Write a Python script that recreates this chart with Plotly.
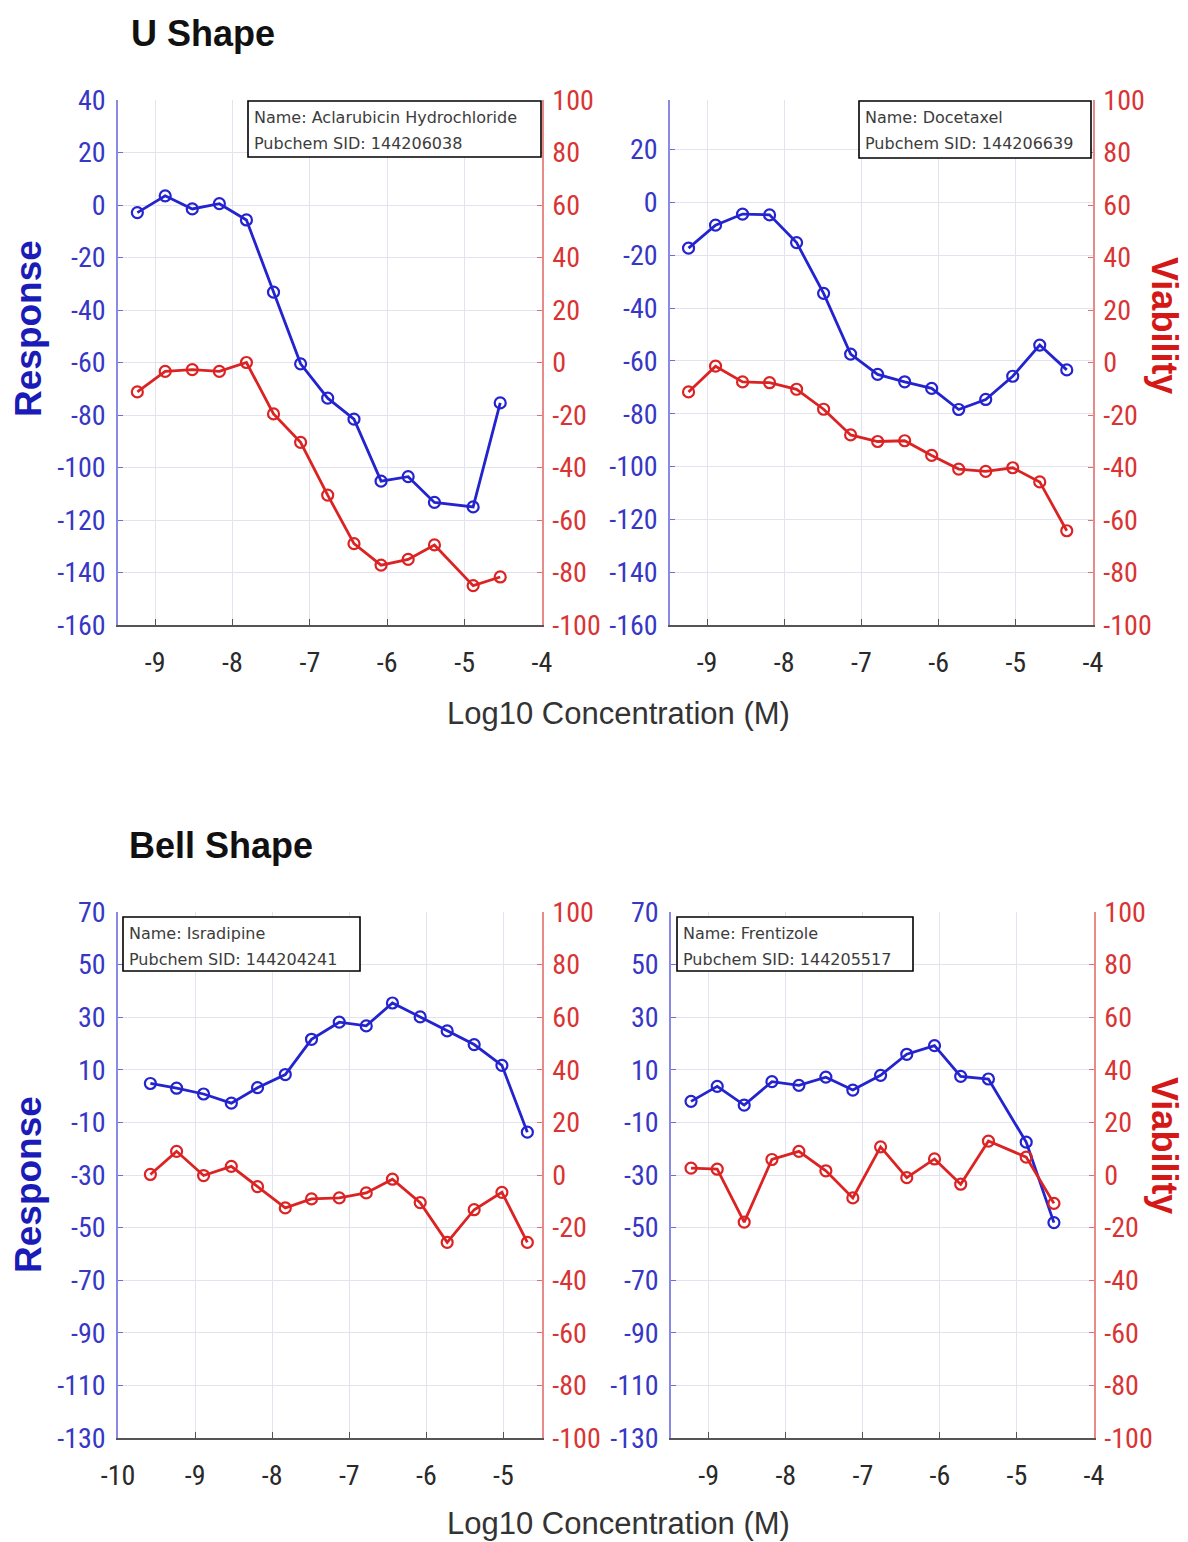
import plotly.graph_objects as go

W, H = 1188, 1542

# ---- data: log10 concentration (M), response and viability per compound ----
x_acla = [-9.23, -8.87, -8.52, -8.17, -7.82, -7.47, -7.12, -6.77, -6.43, -6.08, -5.73, -5.39, -4.89, -4.54]
resp_acla = [-2.9, 3.5, -1.5, 0.5, -5.7, -33.2, -60.5, -73.6, -81.6, -105.2, -103.5, -113.3, -115.0, -75.4]
viab_acla = [-11.2, -3.4, -2.7, -3.4, 0.0, -19.6, -30.4, -50.5, -69.0, -77.2, -75.0, -69.5, -85.0, -81.7]

x_doce = [-9.24, -8.89, -8.54, -8.19, -7.84, -7.49, -7.14, -6.79, -6.44, -6.09, -5.74, -5.39, -5.04, -4.69, -4.34]
resp_doce = [-17.3, -8.6, -4.4, -4.7, -15.2, -34.4, -57.4, -65.1, -67.9, -70.4, -78.4, -74.6, -65.8, -54.0, -63.4]
viab_doce = [-11.2, -1.4, -7.4, -7.7, -10.2, -17.8, -27.6, -30.1, -29.8, -35.4, -40.6, -41.5, -40.1, -45.5, -64.1]

x_isra = [-9.58, -9.24, -8.89, -8.53, -8.19, -7.83, -7.49, -7.13, -6.78, -6.44, -6.08, -5.73, -5.38, -5.02, -4.69]
resp_isra = [4.8, 3.0, 0.8, -2.7, 3.2, 8.2, 21.6, 28.1, 26.7, 35.4, 30.1, 24.8, 19.6, 11.7, -13.7]
viab_isra = [0.2, 9.0, -0.2, 3.3, -4.4, -12.5, -9.1, -8.7, -6.8, -1.6, -10.5, -25.6, -13.2, -6.6, -25.6]

x_fren = [-9.23, -8.89, -8.54, -8.18, -7.83, -7.48, -7.13, -6.77, -6.43, -6.07, -5.73, -5.37, -4.88, -4.52]
resp_fren = [-2.0, 3.7, -3.4, 5.5, 4.1, 7.2, 2.3, 7.9, 15.9, 19.2, 7.5, 6.5, -17.5, -48.1]
viab_fren = [2.6, 2.2, -17.9, 5.9, 9.0, 1.6, -8.7, 10.7, -1.0, 6.1, -3.5, 12.9, 6.8, -10.8]

names = ["Aclarubicin Hydrochloride", "Docetaxel", "Isradipine", "Frentizole"]
sids = ["144206038", "144206639", "144204241", "144205517"]

# tick values (labels are printed with a plain hyphen minus)
x_ticks_top = [-9, -8, -7, -6, -5, -4]
x_ticks_bell_left = [-10, -9, -8, -7, -6, -5]
resp_ticks_u = [40, 20, 0, -20, -40, -60, -80, -100, -120, -140, -160]
resp_ticks_bell = [70, 50, 30, 10, -10, -30, -50, -70, -90, -110, -130]
viab_ticks = [100, 80, 60, 40, 20, 0, -20, -40, -60, -80, -100]

# ---- styling ----
BLUE_LINE = "#2323cf"
RED_LINE = "#dc2323"
BLUE_TXT = "#3737c6"
RED_TXT = "#d93434"
GRID = "#e3e3f0"
TXT_FONT = "Liberation Sans, Arial, sans-serif"
TICK_FONT = "Roboto Condensed, DejaVu Sans Condensed, sans-serif"


def px_x(v):
    return v / W


def px_y(v):
    return 1 - v / H


def labels(vals):
    return [str(v) for v in vals]


# panel geometry in pixels: (left, right, top, bottom)
panels = [
    (118, 542, 100, 625),
    (670, 1093, 100, 625),
    (118, 542, 912, 1438),
    (671, 1094, 912, 1438),
]
x_ranges = [[-9.48, -4.0], [-9.48, -4.0], [-10.0, -4.5], [-9.49, -4.0]]
x_tick_sets = [x_ticks_top, x_ticks_top, x_ticks_bell_left, x_ticks_top]
left_ranges = [[-160, 40], [-160, 38.8], [-130, 70], [-130, 70]]
left_tick_sets = [resp_ticks_u, resp_ticks_u, resp_ticks_bell, resp_ticks_bell]
series = [
    (x_acla, resp_acla, viab_acla),
    (x_doce, resp_doce, viab_doce),
    (x_isra, resp_isra, viab_isra),
    (x_fren, resp_fren, viab_fren),
]

fig = go.Figure()
layout = dict(
    width=W, height=H,
    margin=dict(l=0, r=0, t=0, b=0, pad=0),
    paper_bgcolor="white", plot_bgcolor="white",
    showlegend=False,
)

marker_common = dict(symbol="circle-open", size=11)

for i, ((l, r, t, b), (xs, resp, viab)) in enumerate(zip(panels, series)):
    xi = "" if i == 0 else str(i + 1)
    yl = 2 * i + 1
    yr = 2 * i + 2
    yl_name = "" if yl == 1 else str(yl)
    yr_name = str(yr)

    yticks_l = [v for v in left_tick_sets[i] if left_ranges[i][0] <= v <= left_ranges[i][1]]

    layout["xaxis" + xi] = dict(
        domain=[px_x(l), px_x(r)], range=x_ranges[i], anchor="y" + yl_name,
        tickmode="array", tickvals=x_tick_sets[i], ticktext=labels(x_tick_sets[i]),
        showgrid=True, gridcolor=GRID, gridwidth=1, automargin=False,
        zeroline=False, showline=True, linecolor="#555555", linewidth=1.5,
        ticks="inside", ticklen=6, tickcolor="#555555", tickwidth=1,
        tickfont=dict(family=TICK_FONT, size=28, color="#2a2a2a"),
        ticklabelstandoff=12,
    )
    layout["yaxis" + yl_name] = dict(
        domain=[px_y(b), px_y(t)], range=left_ranges[i], anchor="x" + xi,
        side="left", tickmode="array", tickvals=yticks_l, ticktext=labels(yticks_l),
        showgrid=True, gridcolor=GRID, gridwidth=1, zeroline=False, automargin=False,
        showline=True, linecolor="#8a8ae6", linewidth=1.5,
        ticks="inside", ticklen=5, tickcolor="#6c6cdc", tickwidth=1,
        tickfont=dict(family=TICK_FONT, size=28, color=BLUE_TXT),
        ticklabelstandoff=5,
    )
    layout["yaxis" + yr_name] = dict(
        range=[-100, 100], anchor="x" + xi, overlaying="y" + yl_name,
        side="right", tickmode="array", tickvals=viab_ticks, ticktext=labels(viab_ticks),
        showgrid=False, zeroline=False, automargin=False,
        showline=True, linecolor="#e88a8a", linewidth=1.5,
        ticks="inside", ticklen=5, tickcolor="#e07070", tickwidth=1,
        tickfont=dict(family=TICK_FONT, size=28, color=RED_TXT),
        ticklabelstandoff=3,
    )

    fig.add_trace(go.Scatter(
        x=xs, y=resp, mode="lines+markers", xaxis="x" + xi, yaxis="y" + yl_name,
        line=dict(color=BLUE_LINE, width=2.8),
        marker=dict(color=BLUE_LINE, line=dict(width=2.2, color=BLUE_LINE), **marker_common),
    ))
    fig.add_trace(go.Scatter(
        x=xs, y=viab, mode="lines+markers", xaxis="x" + xi, yaxis="y" + yr_name,
        line=dict(color=RED_LINE, width=2.8),
        marker=dict(color=RED_LINE, line=dict(width=2.2, color=RED_LINE), **marker_common),
    ))

fig.update_layout(**layout)

# ---- compound info boxes ----
boxes = [
    (248, 541, 101, 157),
    (859, 1091, 101, 158),
    (123, 360, 917, 971),
    (677, 913, 917, 971),
]
shapes = []
annotations = []
for (x0, x1, y0, y1), nm, sid in zip(boxes, names, sids):
    shapes.append(dict(
        type="rect", xref="paper", yref="paper",
        x0=px_x(x0), x1=px_x(x1), y0=px_y(y1), y1=px_y(y0),
        line=dict(color="black", width=1.6), fillcolor="white", layer="above",
    ))
    for k, line_txt in enumerate(["Name: " + nm, "Pubchem SID: " + sid]):
        annotations.append(dict(
            xref="paper", yref="paper", x=px_x(x0 + 4), y=px_y(y0 + 17 + 25 * k),
            xanchor="left", yanchor="middle", showarrow=False, text=line_txt,
            font=dict(family="DejaVu Sans, sans-serif", size=16, color="#3c3c3c"),
        ))

# ---- section titles ----
for txt, xx, yy in [("U Shape", 129, 33), ("Bell Shape", 127, 845)]:
    annotations.append(dict(
        xref="paper", yref="paper", x=px_x(xx), y=px_y(yy),
        xanchor="left", yanchor="middle", showarrow=False, text="<b>" + txt + "</b>",
        font=dict(family=TXT_FONT, size=36, color="#111111"),
    ))

# ---- shared x-axis titles ----
for yy in [713, 1523]:
    annotations.append(dict(
        xref="paper", yref="paper", x=px_x(618), y=px_y(yy),
        xanchor="center", yanchor="middle", showarrow=False,
        text="Log10 Concentration (M)",
        font=dict(family=TXT_FONT, size=31, color="#333333"),
    ))

# ---- y-axis titles ----
for yy in [329, 1185]:
    annotations.append(dict(
        xref="paper", yref="paper", x=px_x(28), y=px_y(yy),
        xanchor="center", yanchor="middle", showarrow=False, textangle=-90,
        text="<b>Response</b>",
        font=dict(family=TXT_FONT, size=37, color="#1b1bb8"),
    ))
for yy in [325, 1145]:
    annotations.append(dict(
        xref="paper", yref="paper", x=px_x(1165), y=px_y(yy),
        xanchor="center", yanchor="middle", showarrow=False, textangle=90,
        text="<b>Viability</b>",
        font=dict(family=TXT_FONT, size=36, color="#d41818"),
    ))

fig.update_layout(shapes=shapes, annotations=annotations)

fig.write_html("out.html")
